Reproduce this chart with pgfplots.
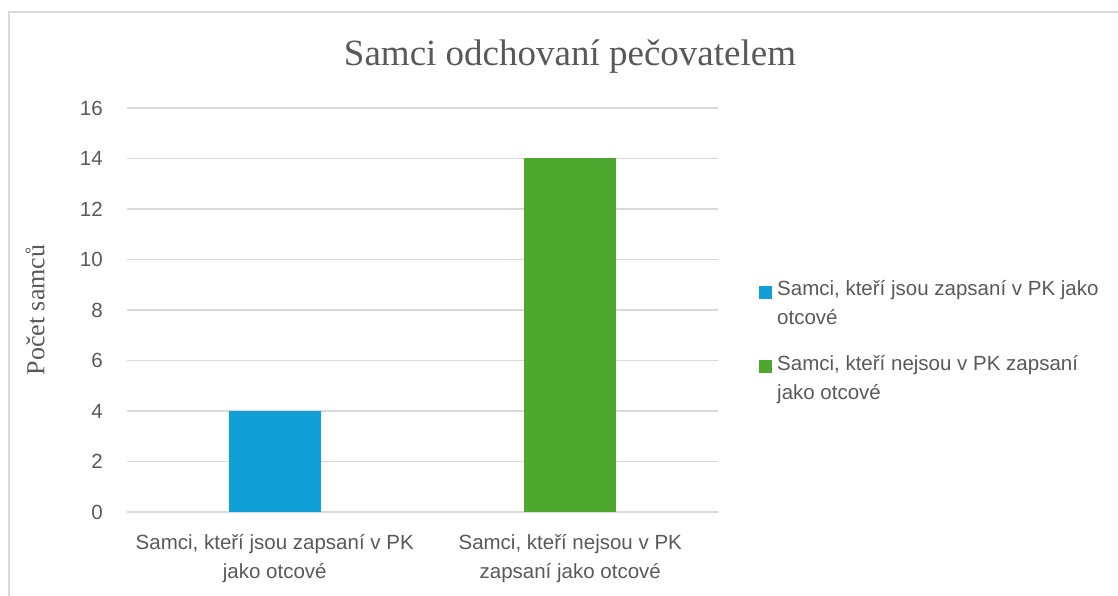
\documentclass[border=0pt]{standalone}
\usepackage{pgfplots}
\pgfplotsset{compat=1.18}
\usepackage{fontspec}
\setmainfont{Liberation Sans}
\newfontfamily\seriffont{Liberation Serif}
\definecolor{txt}{HTML}{595959}
\definecolor{gridc}{HTML}{D9D9D9}
\definecolor{cblue}{HTML}{119FD7}
\definecolor{cgreen}{HTML}{4EA72E}
\begin{document}
\begin{tikzpicture}
\useasboundingbox (0,0) rectangle (1118pt,596pt);
\draw[gridc, line width=1.2pt] (9pt,0) -- (9pt,584pt) -- (1118pt,584pt);
\node[font=\seriffont\fontsize{37}{40}\selectfont, text=txt] at (570pt,539pt) {Samci odchovaní pečovatelem};
\begin{axis}[
  at={(127pt,84pt)}, anchor=south west,
  scale only axis, width=591pt, height=404pt,
  xmin=-0.5, xmax=1.5, ymin=0, ymax=16,
  ytick={0,2,...,16},
  xtick={0,1},
  xticklabels={{Samci, kteří jsou zapsaní v PK\\jako otcové},{Samci, kteří nejsou v PK\\zapsaní jako otcové}},
  /pgf/number format/assume math mode=true,
  tick label style={font=\fontsize{20.5}{29}\selectfont, text=txt},
  xticklabel style={align=center, yshift=-19pt},
  yticklabel style={inner sep=0pt, xshift=-24pt},
  axis line style={draw=none},
  major tick length=0pt,
  ymajorgrids,
  grid style={gridc, line width=1.2pt},
  ylabel={Počet samců},
  ylabel style={font=\seriffont\fontsize{26}{30}\selectfont, text=txt, at={(axis description cs:-0.1557,0.5)}, anchor=center},
  legend style={at={(axis description cs:1.0694,0.58)}, anchor=north west, draw=none, fill=none,
    font=\fontsize{20.5}{29}\selectfont, text=txt, row sep=23pt, inner sep=0pt,
    nodes={align=left, inner ysep=3pt, inner xsep=5pt}},
  legend cell align=left,
  legend image code/.code={\draw[#1, draw=none] (0pt,5pt) rectangle (13pt,18pt);},
]
\addplot[ybar, bar width=0.311, bar shift=0pt, fill=cblue, draw=none] coordinates {(0,4)};
\addlegendentry{Samci, kteří jsou zapsaní v PK jako\\otcové}
\addplot[ybar, bar width=0.311, bar shift=0pt, fill=cgreen, draw=none] coordinates {(1,14)};
\addlegendentry{Samci, kteří nejsou v PK zapsaní\\jako otcové}
\end{axis}
\end{tikzpicture}
\end{document}
